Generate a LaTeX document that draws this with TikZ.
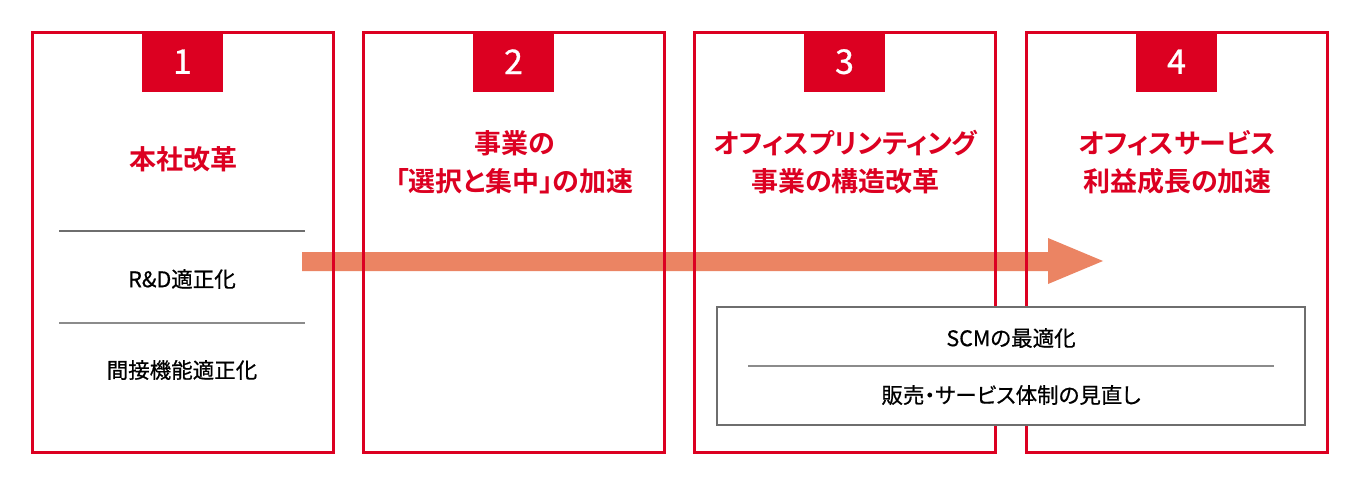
\documentclass[tikz,border=0pt]{standalone}
\usepackage{fontspec}
\setmainfont{Noto Sans CJK JP}[BoldFont={Noto Sans CJK JP Bold}]
\newfontfamily\titlefont{Noto Sans CJK JP Bold}[RawFeature={+palt}]
\newfontfamily\bodyfont{Noto Sans CJK JP}[RawFeature={+palt},FakeBold=0.6]
\newfontfamily\numfont{Noto Sans CJK JP}[FakeBold=0.8]
\definecolor{bred}{HTML}{DC0021}
\definecolor{arrowc}{HTML}{EB8463}
\definecolor{lgrey}{HTML}{6E6E6E}
\begin{document}
\begin{tikzpicture}[x=1pt,y=-1pt,
  stagebox/.style={draw=bred,line width=3pt,fill=none},
  tab/.style={fill=bred,draw=none,minimum width=81pt,minimum height=61pt,inner sep=0pt,
    text=white,font=\fontsize{34}{34}\selectfont\numfont},
  title/.style={text=bred,align=center,font=\fontsize{27}{38}\selectfont\titlefont,inner sep=0pt},
  body/.style={text=black,font=\fontsize{21.5}{26}\selectfont\bodyfont,inner sep=0pt},
  sep/.style={draw=lgrey,line width=1.1pt},
  sepb/.style={draw=lgrey!80,line width=1.1pt},
  scm/.style={draw=lgrey,line width=1.3pt,fill=white}]
\useasboundingbox (0,0) rectangle (1360,485);
\fill[white] (0,0) rectangle (1360,485);
% arrow
\coordinate (aS) at (302,261.5);
\coordinate (aB) at (1048,261.5);
\coordinate (aT) at (1103,261);
\fill[arrowc] (302,252) -- (1048,252) -- (1048,238) -- (aT) -- (1048,284) -- (1048,271) -- (302,271) -- cycle;
% boxes
\foreach \i/\x in {1/32,2/363,3/694,4/1026}{
  \draw[stagebox] (\x,32) rectangle ++(301,420);
  \node[tab,anchor=north] (tab\i) at (\x+150.5,31) {\i};
}
% titles
\node[title] (t1) at (183.5,159) {本社改革};
\node[title] (t2) at (514.5,162) {事業の\\「選択と集中」の加速};
\node[title] (t3) at (845.5,162) {オフィスプリンティング\\事業の構造改革};
\node[title] (t4) at (1177.5,162) {オフィスサービス\\利益成長の加速};
% box 1 items
\coordinate (l1a) at (59,231); \coordinate (l1b) at (305,231);
\coordinate (l2a) at (59,323); \coordinate (l2b) at (305,323);
\draw[sep] (l1a) -- (l1b);
\draw[sepb] (l2a) -- (l2b);
\node[body] (rd) at (182,279) {R\&D適正化};
\node[body] (kk) at (182,370) {間接機能適正化};
% SCM box
\draw[scm] (717,307) rectangle (1305,425);
\coordinate (l3a) at (748,366); \coordinate (l3b) at (1274,366);
\draw[sepb] (l3a) -- (l3b);
\node[body] (scmt) at (1011,338) {SCMの最適化};
\node[body] (hb) at (1011,395) {販売・サービス体制の見直し};
\end{tikzpicture}
\end{document}
